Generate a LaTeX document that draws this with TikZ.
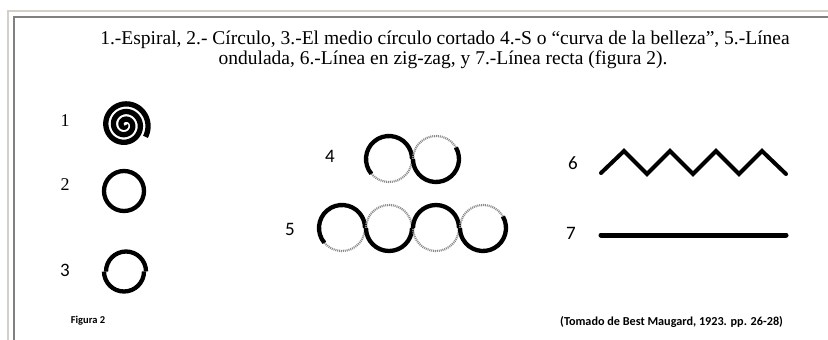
\documentclass[tikz,border=0pt]{standalone}
\usepackage{fontspec}
\setmainfont{Liberation Serif}
\newfontfamily\calfont{Carlito}
\definecolor{framelight}{HTML}{D4D0C8}
\definecolor{framedark}{HTML}{808080}
\definecolor{inkgray}{HTML}{8A8A8A}
\begin{document}
\begin{tikzpicture}[x=1pt,y=-1pt,
  solidarc/.style={line width=4.3pt, black},
  dotarc/.style={line width=2.2pt, inkgray, dash pattern=on 1pt off 0.9pt},
  serifnum/.style={font=\fontsize{18}{18}\selectfont},
  sansnum/.style={font=\calfont\fontsize{19}{19}\selectfont},
  titletext/.style={font=\fontsize{19.5}{19.5}\selectfont, inner sep=0pt},
  smalltext/.style={font=\calfont\bfseries\fontsize{12.2}{12.2}\selectfont, inner sep=0pt}
]
\useasboundingbox (0,0) rectangle (828,340);
% frame
\draw[framelight, line width=2pt] (8,340) -- (8,10.5) -- (828,10.5);
\draw[framedark, line width=2pt] (13.5,340) -- (13.5,16.5) -- (828,16.5);

% title
\node[titletext] (t1) at (445,40) {1.-Espiral, 2.- Círculo, 3.-El medio círculo cortado 4.-S o “curva de la belleza”, 5.-Línea};
\node[titletext] (t2) at (443,60) {ondulada, 6.-Línea en zig-zag, y 7.-Línea recta (figura 2).};

% 1 spiral
\node[serifnum] (n1) at (65,121) {1};
\draw[line width=5.3pt] plot[domain=30:1110, samples=260, smooth]
  ({125 + \x/1080*23*cos(\x)}, {125 + \x/1080*23*sin(\x)});

% 2 circle
\node[serifnum] (n2) at (65,185) {2};
\draw[solidarc] (124,191) circle[radius=20];

% 3 cut circle
\node[sansnum] (n3) at (65,270) {3};
\draw[solidarc] (126,271.5) ++(180:20) arc[start angle=180, end angle=360, radius=20];
\draw[solidarc] (124,271.5) ++(0:20) arc[start angle=0, end angle=180, radius=20];

\node[font=\calfont\bfseries\fontsize{10.5}{10.5}\selectfont, inner sep=0pt] (fig) at (88,321) {Figura 2};

% 4 S curve
\node[sansnum] (n4) at (330,156) {4};
\draw[dotarc] (389,159) ++(0:23) arc[start angle=0, end angle=140, radius=23];
\draw[solidarc] (389,159) ++(140:23) arc[start angle=140, end angle=360, radius=23];
\draw[dotarc] (436,159) ++(180:23) arc[start angle=180, end angle=330, radius=23];
\draw[solidarc] (436,159) ++(-30:23) arc[start angle=-30, end angle=180, radius=23];

% 5 wavy line
\node[sansnum] (n5) at (290,229) {5};
\draw[dotarc] (342,228) ++(0:23) arc[start angle=0, end angle=140, radius=23];
\draw[solidarc] (342,228) ++(140:23) arc[start angle=140, end angle=360, radius=23];
\draw[dotarc] (389,228) ++(180:23) arc[start angle=180, end angle=360, radius=23];
\draw[solidarc] (389,228) ++(0:23) arc[start angle=0, end angle=180, radius=23];
\draw[dotarc] (436,228) ++(0:23) arc[start angle=0, end angle=180, radius=23];
\draw[solidarc] (436,228) ++(180:23) arc[start angle=180, end angle=360, radius=23];
\draw[dotarc] (483,228) ++(180:23) arc[start angle=180, end angle=330, radius=23];
\draw[solidarc] (483,228) ++(-30:23) arc[start angle=-30, end angle=180, radius=23];

% 6 zigzag
\node[sansnum] (n6) at (573,163) {6};
\draw[line width=4pt, line cap=round, line join=miter]
  (601,173) -- (624,151) -- (647,174) -- (670,151) -- (693,174) -- (716,151) -- (739,174) -- (762,151) -- (786,174);

% 7 straight line
\node[sansnum] (n7) at (571,233) {7};
\draw[line width=5pt, line cap=round] (601,235) -- (786,235);

% source
\node[smalltext, anchor=west] (src) at (560,322) {(Tomado de Best Maugard, 1923. pp. 26-28)};
\end{tikzpicture}
\end{document}
